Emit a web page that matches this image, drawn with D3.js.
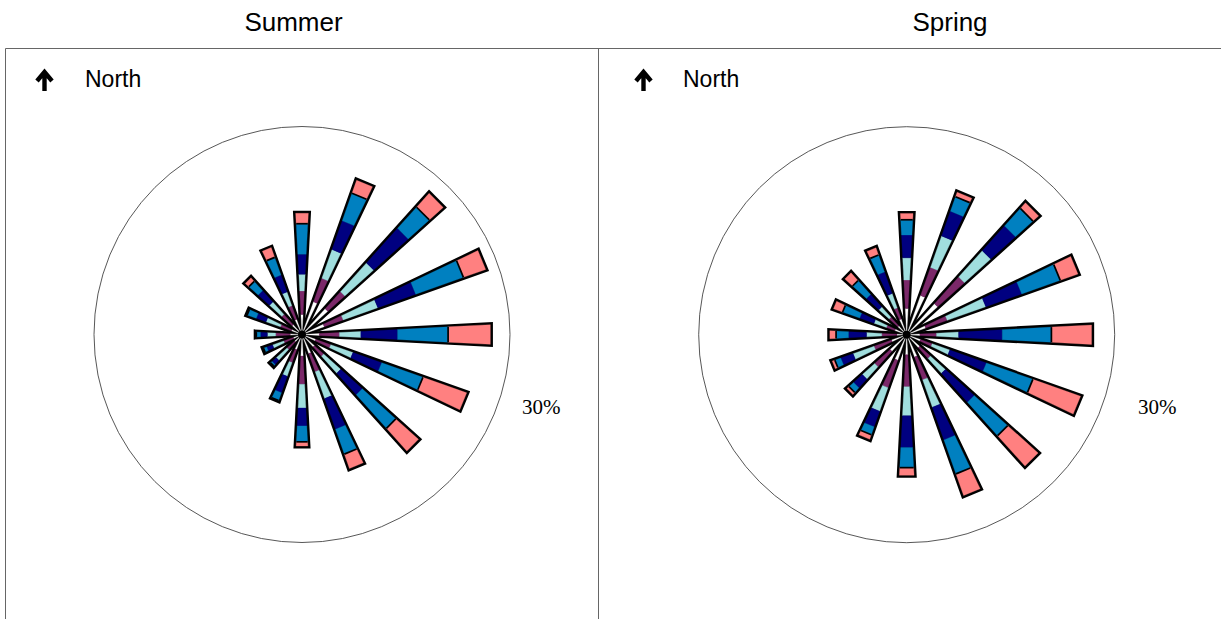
<!DOCTYPE html>
<html>
<head>
<meta charset="utf-8">
<script src="https://cdn.jsdelivr.net/npm/d3@7"></script>
<style>
  body { margin: 0; background: #fff; }
  svg { display: block; }
</style>
</head>
<body>
<svg id="chart" width="1221" height="619"></svg>
<script>
// Wind directions (degrees clockwise from north)
const directions = [0, 22.5, 45, 67.5, 90, 112.5, 135, 157.5, 180, 202.5, 225, 247.5, 270, 292.5, 315, 337.5];

// Speed-band fill colours, innermost band first
const bandColors = ["#ffffff", "#7b2869", "#a0dede", "#000080", "#0080c0", "#ff8080"];

// Frequency (%) of each speed band per direction, innermost band first
const summerBands = [
  [2.9, 5.0, 5.0, 3.4, 2.5, 2.1, 2.4, 2.9, 3.1, 2.3, 1.4, 1.3, 1.7, 1.6, 1.9, 2.3],
  [3.4, 3.6, 3.3, 2.9, 2.9, 2.3, 1.8, 2.8, 4.1, 2.0, 1.5, 1.5, 2.1, 1.7, 2.0, 2.1],
  [2.4, 4.4, 5.6, 5.3, 3.1, 3.4, 3.3, 4.1, 3.4, 2.1, 2.1, 1.7, 1.2, 2.2, 2.4, 2.1],
  [2.9, 4.4, 6.7, 5.8, 5.3, 4.4, 4.2, 4.7, 2.6, 2.5, 0.8, 0.9, 1.0, 1.5, 2.2, 2.6],
  [4.4, 4.2, 4.1, 7.3, 7.3, 6.3, 6.5, 3.8, 2.3, 1.2, 0.3, 0.5, 0.6, 1.4, 1.8, 2.7],
  [1.5, 2.0, 2.7, 3.4, 6.1, 6.7, 4.4, 2.2, 0.6, 0.0, 0.0, 0.0, 0.0, 0.0, 0.7, 1.5]
];
const springBands = [
  [3.8, 6.0, 6.0, 2.9, 1.9, 2.1, 2.5, 3.4, 2.9, 3.9, 3.2, 2.3, 1.4, 1.8, 1.7, 2.4],
  [4.1, 4.3, 5.2, 3.3, 2.4, 1.8, 2.1, 3.5, 4.6, 4.2, 3.0, 2.7, 2.2, 1.3, 1.7, 1.7],
  [3.2, 4.8, 5.1, 5.9, 3.2, 2.7, 2.9, 4.2, 4.2, 3.6, 2.4, 3.2, 2.2, 1.9, 2.0, 2.2],
  [3.3, 3.8, 4.8, 5.5, 6.3, 5.6, 5.6, 5.0, 4.6, 2.4, 1.7, 1.9, 2.6, 2.2, 2.4, 3.3],
  [2.2, 2.2, 3.4, 5.9, 7.1, 7.1, 6.5, 5.2, 2.9, 1.2, 0.9, 0.9, 1.8, 2.6, 2.7, 2.6],
  [0.9, 0.7, 1.1, 2.7, 5.8, 7.3, 5.9, 3.3, 1.1, 0.7, 0.4, 0.4, 0.9, 1.4, 1.5, 1.1]
];

const panelTitles = ["Summer", "Spring"];
const ringValues = [30];
const ringLabels = ["30%"];

const svg = d3.select("#chart");
const W = 1221, H = 619;

const panels = [
  { title: panelTitles[0], bands: summerBands, titleX: 293.5, cx: 302, cy: 334.5, arrowX: 44.5, northX: 85, ringLabelX: 522 },
  { title: panelTitles[1], bands: springBands, titleX: 950, cx: 906.7, cy: 334.7, arrowX: 643.5, northX: 683, ringLabelX: 1138 }
];

const rScale = d3.scaleLinear().domain([0, 30]).range([0, 208]);
const halfWidth = 3.0 * Math.PI / 180;
const keys = bandColors.map((_, i) => "b" + i);

// Point at radius r (px) along bearing a (radians, clockwise from north)
const pt = (r, a) => [r * Math.sin(a), -r * Math.cos(a)];
const polyPath = pts => "M" + pts.map(q => q.join(",")).join("L") + "Z";

// Panel frame lines
const frame = svg.append("g").attr("stroke", "#666").attr("stroke-width", 1).attr("fill", "none");
frame.append("line").attr("x1", 5.5).attr("x2", W).attr("y1", 48.5).attr("y2", 48.5);
frame.append("line").attr("x1", 5.5).attr("x2", 5.5).attr("y1", 48.5).attr("y2", H);
frame.append("line").attr("x1", 598.5).attr("x2", 598.5).attr("y1", 48.5).attr("y2", H);

panels.forEach(p => {
  // Strip title
  svg.append("text")
    .attr("x", p.titleX).attr("y", 31)
    .attr("text-anchor", "middle")
    .attr("font-family", "Liberation Sans, Arial, sans-serif")
    .attr("font-size", 26)
    .attr("fill", "#000")
    .text(p.title);

  // North indicator
  const ax = p.arrowX;
  svg.append("path")
    .attr("d", `M${ax},91 L${ax},73 M${ax - 7.5},81 L${ax},72 L${ax + 7.5},81`)
    .attr("fill", "none").attr("stroke", "#000").attr("stroke-width", 4.4)
    .attr("stroke-linejoin", "miter").attr("stroke-linecap", "butt");
  svg.append("text")
    .attr("x", p.northX).attr("y", 87)
    .attr("font-family", "Liberation Sans, Arial, sans-serif")
    .attr("font-size", 23)
    .attr("fill", "#000")
    .text("North");

  const g = svg.append("g").attr("transform", `translate(${p.cx},${p.cy})`);

  // Scale ring
  g.selectAll("circle.ring").data(ringValues).join("circle")
    .attr("class", "ring")
    .attr("r", d => rScale(d))
    .attr("fill", "none").attr("stroke", "#444").attr("stroke-width", 0.9);

  svg.selectAll(null).data(ringLabels).join("text")
    .attr("x", p.ringLabelX).attr("y", 413.5)
    .attr("font-family", "Liberation Serif, Times New Roman, serif")
    .attr("font-size", 21)
    .attr("fill", "#000")
    .text(d => d);

  // Stack the speed bands for each direction
  const rows = directions.map((dir, i) => {
    const row = { dir };
    keys.forEach((k, b) => row[k] = p.bands[b][i]);
    return row;
  });
  const stacked = d3.stack().keys(keys)(rows);
  const outlines = g.append("g");
  const fills = g.append("g");

  directions.forEach((dir, i) => {
    const a = dir * Math.PI / 180;
    // Wedge outline sits beneath the fills so only its outer half shows
    const total = rScale(stacked[keys.length - 1][i][1]);
    outlines.append("path")
      .attr("d", polyPath([[0, 0], pt(total, a - halfWidth), pt(total, a + halfWidth)]))
      .attr("fill", "#000").attr("stroke", "#000").attr("stroke-width", 5.2)
      .attr("stroke-linejoin", "miter").attr("stroke-miterlimit", 4);

    const wedge = fills.append("g");
    // Band segments
    stacked.forEach((layer, b) => {
      const [v0, v1] = layer[i];
      if (v1 - v0 <= 0) return;
      const r0 = rScale(v0), r1 = rScale(v1);
      wedge.append("path")
        .attr("d", polyPath([pt(r0, a - halfWidth), pt(r1, a - halfWidth), pt(r1, a + halfWidth), pt(r0, a + halfWidth)]))
        .attr("fill", bandColors[b])
        .attr("stroke", bandColors[b]).attr("stroke-width", 0.3);
    });
    // Divider below the top band
    const rt = rScale(stacked[keys.length - 1][i][0]);
    const e1 = pt(rt, a - halfWidth), e2 = pt(rt, a + halfWidth);
    wedge.append("line")
      .attr("x1", e1[0]).attr("y1", e1[1]).attr("x2", e2[0]).attr("y2", e2[1])
      .attr("stroke", "#000").attr("stroke-width", 1.7);
  });

  // Dark hub where the wedge edges converge
  g.append("circle").attr("r", 4).attr("fill", "#000");
});
</script>
</body>
</html>
